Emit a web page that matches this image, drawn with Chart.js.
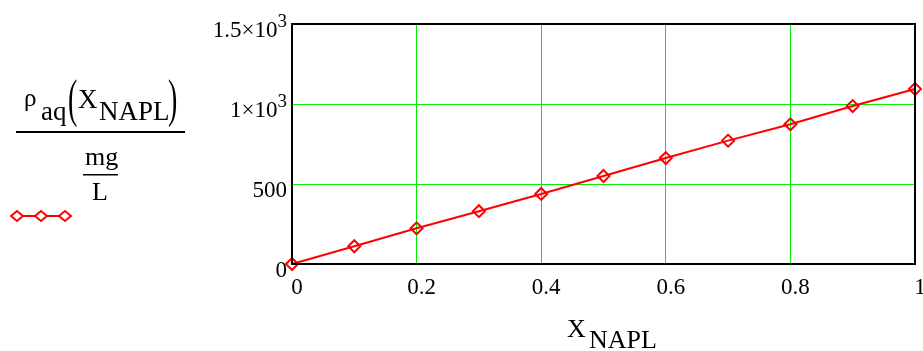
<!DOCTYPE html>
<html>
<head>
<meta charset="utf-8">
<script src="https://cdn.jsdelivr.net/npm/chart.js@4"></script>
<style>
  html, body { margin: 0; padding: 0; background: #fff; }
  #wrap { width: 923px; height: 351px; position: relative; }
</style>
</head>
<body>
<div id="wrap"><canvas id="plot"></canvas></div>
<script>
// X_NAPL values and rho_aq(X_NAPL) in mg/L
const xNapl = [0, 0.1, 0.2, 0.3, 0.4, 0.5, 0.6, 0.7, 0.8, 0.9, 1.0];
const rhoAq = [0, 111, 223, 330, 438, 550, 662, 771, 873, 987, 1094];
// y tick labels: [mantissa, exponent]
const yTickLabels = { 0: ['0', ''], 500: ['500', ''], 1000: ['1×10', '3'], 1500: ['1.5×10', '3'] };
const xTickLabels = { 0: '0', 0.2: '0.2', 0.4: '0.4', 0.6: '0.6', 0.8: '0.8', 1: '1' };

const SERIF = '"Liberation Serif", "Times New Roman", serif';

// rahmen um die plotfläche + beschriftungen links und unten
const mathcadDecor = {
  id: 'mathcadDecor',
  afterDraw(chart) {
    const ctx = chart.ctx;
    const a = chart.chartArea;
    ctx.save();
    ctx.strokeStyle = '#000';
    ctx.lineWidth = 2;
    ctx.strokeRect(a.left, a.top, a.right - a.left, a.bottom - a.top);

    ctx.fillStyle = '#000';
    ctx.textBaseline = 'alphabetic';

    // y-tickbeschriftung mit hochgestelltem exponenten
    const ys = chart.scales.y;
    ys.ticks.forEach(function (t) {
      const lab = yTickLabels[t.value];
      if (!lab) return;
      const py = ys.getPixelForValue(t.value) + 13;
      ctx.textAlign = 'right';
      let right = a.left - 5;
      if (lab[1]) {
        ctx.font = '19px ' + SERIF;
        ctx.fillText(lab[1], right, py - 10);
        right -= ctx.measureText(lab[1]).width;
      }
      ctx.font = '23px ' + SERIF;
      ctx.fillText(lab[0], right, py);
    });

    ctx.textAlign = 'left';
    // x-achsentitel
    ctx.font = '26px ' + SERIF;
    ctx.fillText('X', 567, 337);
    ctx.fillText('NAPL', 589, 348);

    // y-titel: rho_aq(X_NAPL) / (mg/L)
    ctx.font = '25px ' + SERIF;
    ctx.fillText('ρ', 24, 106);
    ctx.font = '27px ' + SERIF;
    ctx.fillText('aq', 41, 120);
    ctx.fillText('X', 78, 108);
    ctx.fillText('NAPL', 99, 120);
    ['(', ')'].forEach(function (p, i) {
      ctx.save();
      ctx.translate(i === 0 ? 68 : 168, 116);
      ctx.scale(1, 1.9);
      ctx.font = '28px ' + SERIF;
      ctx.fillText(p, 0, 0);
      ctx.restore();
    });
    ctx.fillRect(16, 131, 169, 2);

    ctx.font = '26px ' + SERIF;
    ctx.fillText('mg', 85, 165);
    ctx.fillRect(83, 174, 35, 1.5);
    ctx.fillText('L', 92, 200);

    // legendensymbol
    ctx.strokeStyle = '#ff0000';
    ctx.lineWidth = 2;
    ctx.beginPath();
    ctx.moveTo(11, 216);
    ctx.lineTo(71, 216);
    ctx.stroke();
    [17, 41, 65].forEach(function (cx) {
      ctx.fillStyle = '#fff';
      ctx.beginPath();
      ctx.moveTo(cx - 6, 216);
      ctx.lineTo(cx, 211);
      ctx.lineTo(cx + 6, 216);
      ctx.lineTo(cx, 221);
      ctx.closePath();
      ctx.fill();
      ctx.stroke();
    });
    ctx.restore();
  }
};

const canvas = document.getElementById('plot');
new Chart(canvas, {
  type: 'line',
  data: {
    datasets: [{
      data: xNapl.map(function (x, i) { return { x: x, y: rhoAq[i] }; }),
      borderColor: '#ff0000',
      borderWidth: 2,
      pointStyle: 'rectRot',
      pointRadius: 6,
      pointBorderWidth: 2,
      pointBorderColor: '#ff0000',
      pointBackgroundColor: 'rgba(255,255,255,0)',
      tension: 0,
      clip: false
    }]
  },
  options: {
    responsive: true,
    maintainAspectRatio: false,
    animation: false,
    devicePixelRatio: 1,
    layout: { padding: { left: 0, top: 24, right: 3, bottom: 0 } },
    plugins: { legend: { display: false }, tooltip: { enabled: false } },
    scales: {
      x: {
        type: 'linear',
        min: 0,
        max: 1,
        afterFit: function (scale) {
          scale.height = 87;
          scale.paddingLeft = 0;
          scale.paddingRight = 0;
        },
        grid: { color: '#00ee00', lineWidth: 1, drawTicks: false },
        border: { display: false },
        ticks: {
          stepSize: 0.2,
          padding: 10,
          labelOffset: 5,
          color: '#000',
          font: { family: SERIF, size: 23 },
          maxRotation: 0,
          autoSkip: false,
          callback: function (v) { return xTickLabels[Math.round(v * 10) / 10]; }
        }
      },
      y: {
        min: 0,
        max: 1500,
        afterFit: function (scale) {
          scale.width = 292;
          scale.paddingTop = 0;
          scale.paddingBottom = 0;
        },
        grid: { color: '#00ee00', lineWidth: 1, drawTicks: false },
        border: { display: false },
        ticks: { stepSize: 500, display: false }
      }
    }
  },
  plugins: [mathcadDecor]
});
</script>
</body>
</html>
